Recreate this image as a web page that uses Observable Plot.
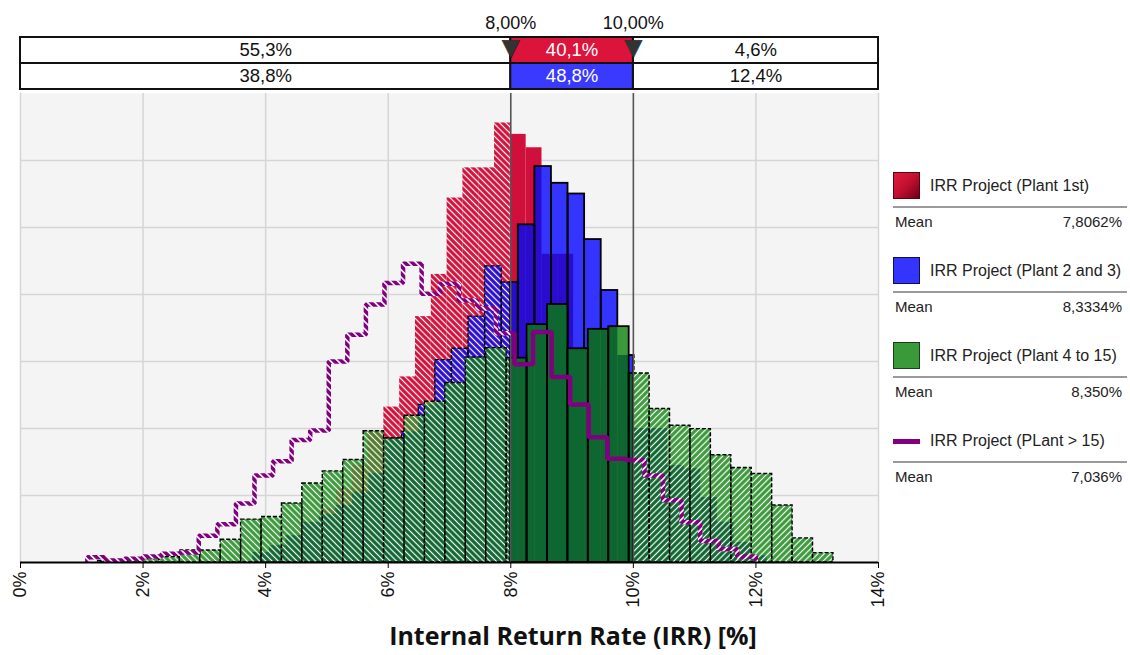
<!DOCTYPE html>
<html>
<head>
<meta charset="utf-8">
<script src="https://cdn.jsdelivr.net/npm/d3@7"></script>
<script src="https://cdn.jsdelivr.net/npm/@observablehq/plot@0.6"></script>
<style>
  body { margin: 0; background: #fff; font-family: "Liberation Sans", Arial, sans-serif; color: #222; }
  #wrap { position: relative; width: 1130px; height: 655px; overflow: hidden; background: #fff; }
  #band { position: absolute; left: 0; top: 0; }
  #main { position: absolute; left: 0; top: 93px; }
  #xlabel { position: absolute; left: 323px; width: 500px; top: 618px; text-align: center;
            font-family: "Open Sans", "DejaVu Sans", sans-serif; font-weight: 700; font-size: 25px; color: #111; }
  .entry { position: absolute; left: 893px; width: 234px; height: 60px; }
  .sw { position: absolute; left: 0; top: 0; width: 25px; height: 25px; border: 1px solid #222; }
  .swline { position: absolute; left: 0; top: 12px; width: 27px; height: 5px; }
  .name { position: absolute; left: 37px; top: 0; line-height: 27px; font-size: 16px; white-space: nowrap; color: #222; }
  .sep { position: absolute; left: 0; top: 34px; width: 234px; height: 2px; background: #9a9a9a; }
  .mean { position: absolute; left: 2px; right: 5px; top: 42px; line-height: 16px; font-size: 15px; color: #222; }
  .mean span { float: right; }
</style>
</head>
<body>
<div id="wrap">
  <div id="band"></div>
  <div id="main"></div>
  <div id="xlabel"></div>
  <div id="legend"></div>
</div>
<script>
// ---------------- data ----------------
const thresholds = [8, 10];
const xDomain = [0, 14];
const xTicks = [0, 2, 4, 6, 8, 10, 12, 14];
const yDomain = [0, 7];
const yGrid = [1, 2, 3, 4, 5, 6];
const xTitle = "Internal Return Rate (IRR) [%]";

const seriesNames = ["IRR Project (Plant 1st)", "IRR Project (Plant 2 and 3)", "IRR Project (Plant 4 to 15)", "IRR Project (PLant > 15)"];
const seriesMeans = ["7,8062%", "8,3334%", "8,350%", "7,036%"];

const bandLabels = ["8,00%", "10,00%"];
const bandRow1 = ["55,3%", "40,1%", "4,6%"];
const bandRow2 = ["38,8%", "48,8%", "12,4%"];

// histogram bins: first left edge, bin width, bar heights
const redStart = 3.865, redWidth = 0.258;
const redHeights = [0.1, 0.2, 0.35, 0.55, 0.8, 1.1, 1.45, 1.95, 2.32, 2.77, 3.67, 4.30, 5.44, 5.89, 5.89, 6.56,
                    6.39, 6.19, 4.6, 4.6, 3.2, 2.6, 2.0, 1.5, 1.0, 0.7, 0.45, 0.25, 0.12];

const blueStart = 3.791, blueWidth = 0.2707;
const blueHeights = [0.15, 0.25, 0.4, 0.6, 0.72, 0.85, 1.05, 1.33, 1.85, 1.95, 2.35, 3.02, 3.19, 3.67, 4.42, 4.18,
                     5.04, 5.91, 5.66, 5.50, 4.82, 4.06, 3.09, 2.0, 2.0, 1.45, 1.4, 0.97, 0.6, 0.3, 0.1];

const greenStart = 1.266, greenWidth = 0.3333;
const greenHeights = [0.02, 0.03, 0.05, 0.08, 0.18, 0.18, 0.34, 0.64, 0.68, 0.88, 1.18, 1.36, 1.53, 1.96, 1.85,
                      2.19, 2.40, 2.68, 3.06, 3.20, 3.05, 3.55, 3.85, 3.19, 3.48, 3.52, 2.82, 2.29, 2.04, 1.99,
                      1.60, 1.41, 1.32, 0.85, 0.36, 0.14];

const purpleStart = 1.091, purpleWidth = 0.303;
const purpleHeights = [0.08, 0.03, 0.055, 0.09, 0.13, 0.15, 0.40, 0.57, 0.88, 1.30, 1.51, 1.83, 1.97, 3.0, 3.40,
                       3.85, 4.17, 4.46, 4.01, 4.16, 3.91, 3.79, 3.42, 2.96, 3.44, 2.77, 2.36, 1.87, 1.55, 1.53,
                       1.30, 0.93, 0.60, 0.32, 0.20, 0.09];

// ---------------- styles ----------------
const COL = {
  red: "#D0103A", blue: "#3434FF", darkBlue: "#2A0CCF",
  green: "#3A9A3A", darkGreen: "#0E6631", olive: "#4F7A2A", purple: "#800080",
  bandRed: "#DC143C", bandBlue: "#3A3AFF"
};
const FONT = '"Liberation Sans", Arial, sans-serif';

// ---------------- helpers ----------------
const [LO, HI] = thresholds;
function makeBins(start, width, heights) {
  return heights.map((h, i) => ({x1: start + i * width, x2: start + (i + 1) * width, h}));
}
function splitZones(b) {
  const cuts = [b.x1, ...thresholds.filter(c => c > b.x1 && c < b.x2), b.x2];
  const out = [];
  for (let i = 0; i < cuts.length - 1; i++) {
    const m = (cuts[i] + cuts[i + 1]) / 2;
    out.push({x1: cuts[i], x2: cuts[i + 1], h: b.h, zone: m < LO ? "L" : m > HI ? "R" : "M"});
  }
  return out;
}
function overlap(top, bottom) {
  const out = [];
  for (const t of top) for (const b of bottom) {
    const a = Math.max(t.x1, b.x1), c = Math.min(t.x2, b.x2);
    if (c > a) out.push({x1: a, x2: c, h: Math.min(t.h, b.h), zone: t.zone});
  }
  return out;
}
function fills(pieces, key) {
  return ["L", "M", "R"].map(z => Plot.rect(pieces.filter(p => p.zone === z), {
    x1: "x1", x2: "x2", y1: 0, y2: "h",
    fill: z === "M" ? COL[key] : `url(#hatch-${key}-${z})`
  }));
}
function outlines(pieces) {
  return [
    Plot.rect(pieces.filter(p => p.zone !== "M"), {x1: "x1", x2: "x2", y1: 0, y2: "h",
      fill: "none", stroke: "#000", strokeWidth: 1.4, strokeDasharray: "4,2"}),
    Plot.rect(pieces.filter(p => p.zone === "M"), {x1: "x1", x2: "x2", y1: 0, y2: "h",
      fill: "none", stroke: "#000", strokeWidth: 1.8})
  ];
}
function stepPieces(bs) {
  const hAt = x => (bs.find(b => x >= b.x1 && x < b.x2) || {h: 0}).h;
  const left = [{x: bs[0].x1, y: 0}, ...bs.filter(b => b.x1 < LO).map(b => ({x: b.x1, y: b.h})), {x: LO, y: hAt(LO)}];
  const mid = [{x: LO, y: hAt(LO)}, ...bs.filter(b => b.x1 > LO && b.x1 < HI).map(b => ({x: b.x1, y: b.h})), {x: HI, y: hAt(HI)}];
  const right = [{x: HI, y: hAt(HI)}, ...bs.filter(b => b.x1 > HI).map(b => ({x: b.x1, y: b.h})), {x: bs[bs.length - 1].x2, y: 0}];
  return {left, mid, right};
}

// ---------------- derived ----------------
const redBins = makeBins(redStart, redWidth, redHeights);
const blueBins = makeBins(blueStart, blueWidth, blueHeights);
const greenBins = makeBins(greenStart, greenWidth, greenHeights);
const purpleBins = makeBins(purpleStart, purpleWidth, purpleHeights);

const redP = redBins.flatMap(splitZones);
const blueP = blueBins.flatMap(splitZones);
const greenP = greenBins.flatMap(splitZones);
const blueOverRed = overlap(blueP, redBins);
const greenOverRed = overlap(greenP, redBins);
const greenOverBlue = overlap(greenP, blueBins);
const purple = stepPieces(purpleBins);

// ---------------- band plot ----------------
const edges = [xDomain[0], ...thresholds, xDomain[1]];
const bandCells = [bandRow1, bandRow2].flatMap((row, r) =>
  row.map((label, i) => ({row: r === 0 ? "a" : "b", x1: edges[i], x2: edges[i + 1], label, mid: i === 1})));

const band = Plot.plot({
  width: 1130, height: 93,
  marginLeft: 20, marginRight: 252, marginTop: 37, marginBottom: 4,
  x: {domain: xDomain, axis: null},
  y: {domain: ["a", "b"], axis: null, padding: 0},
  style: {fontFamily: FONT, fontSize: "18px", background: "transparent", color: "#111"},
  marks: [
    Plot.barX(bandCells.filter(c => !c.mid), {x1: "x1", x2: "x2", y: "row", fill: "#fff", stroke: "#111", strokeWidth: 2}),
    Plot.barX(bandCells.filter(c => c.mid && c.row === "a"), {x1: "x1", x2: "x2", y: "row", fill: COL.bandRed, stroke: "#111", strokeWidth: 2}),
    Plot.barX(bandCells.filter(c => c.mid && c.row === "b"), {x1: "x1", x2: "x2", y: "row", fill: COL.bandBlue, stroke: "#111", strokeWidth: 2}),
    Plot.text(bandCells.filter(c => !c.mid), {x: d => (d.x1 + d.x2) / 2, y: "row", text: "label", fill: "#111", fontSize: 18.5}),
    Plot.text(bandCells.filter(c => c.mid), {x: d => (d.x1 + d.x2) / 2, y: "row", text: "label", fill: "#fff", fontSize: 18.5}),
    Plot.text(thresholds, {x: d => d, text: (d, i) => bandLabels[i], frameAnchor: "top", dy: -21, fontSize: 18, fill: "#111"}),
    Plot.text(thresholds, {x: d => d, text: () => "\u25BC", frameAnchor: "top", dy: 1, fontSize: 23, fill: "#333",
      fontFamily: '"DejaVu Sans", sans-serif', stroke: "#111", strokeWidth: 0.6})
  ]
});
document.getElementById("band").appendChild(band);

// ---------------- main plot ----------------
const axisOpts = {ticks: xTicks, tickFormat: d => d + "%", tickRotate: -90, tickSize: 6, tickPadding: 3, label: null};
const hasAxisMark = typeof Plot.axisX === "function";
const main = Plot.plot({
  width: 1130, height: 562,
  marginLeft: 20, marginRight: 252, marginTop: 0, marginBottom: 93,
  x: hasAxisMark ? {domain: xDomain} : {domain: xDomain, ...axisOpts, line: false},
  y: {domain: yDomain, axis: null},
  style: {fontFamily: FONT, fontSize: "18px", background: "#fff", color: "#111"},
  marks: [
    Plot.frame({fill: "#F4F4F4", stroke: "none"}),
    Plot.ruleY(yGrid, {stroke: "#D5D5D5", strokeWidth: 1.5}),
    Plot.ruleX(xTicks.filter(t => !thresholds.includes(t)), {stroke: "#D5D5D5", strokeWidth: 1.5}),
    // Plant 1st
    ...fills(redP, "red"),
    // Plant 2 and 3
    ...fills(blueP, "blue"),
    ...fills(blueOverRed, "darkBlue"),
    ...outlines(blueP),
    // Plant 4 to 15
    ...fills(greenP, "green"),
    ...fills(greenOverRed, "olive"),
    ...fills(greenOverBlue, "darkGreen"),
    ...outlines(greenP),
    // threshold markers
    Plot.ruleX(thresholds, {stroke: "#555", strokeWidth: 1.6}),
    // PLant > 15 (step outline)
    Plot.line(purple.left, {x: "x", y: "y", curve: "step-after", stroke: "url(#hatch-purple-L)", strokeWidth: 4.5, strokeLinejoin: "miter", strokeLinecap: "butt"}),
    Plot.line(purple.mid, {x: "x", y: "y", curve: "step-after", stroke: COL.purple, strokeWidth: 4.5, strokeLinejoin: "miter", strokeLinecap: "butt"}),
    Plot.line(purple.right, {x: "x", y: "y", curve: "step-after", stroke: "url(#hatch-purple-R)", strokeWidth: 4.5, strokeLinejoin: "miter", strokeLinecap: "butt"}),
    Plot.ruleY([0], {stroke: "#000", strokeWidth: 2}),
    ...(hasAxisMark ? [Plot.axisX({...axisOpts, fontSize: 18, stroke: "#000", fill: "#111"})] : [])
  ]
});

// hatch patterns (white diagonal stripes)
const NS = "http://www.w3.org/2000/svg";
const defs = document.createElementNS(NS, "defs");
for (const key of ["red", "blue", "darkBlue", "green", "darkGreen", "olive", "purple"]) {
  for (const z of ["L", "R"]) {
    const w = key === "purple" ? 5.2 : 4.4;
    const p = document.createElementNS(NS, "pattern");
    p.setAttribute("id", `hatch-${key}-${z}`);
    p.setAttribute("patternUnits", "userSpaceOnUse");
    p.setAttribute("width", w);
    p.setAttribute("height", w);
    p.setAttribute("patternTransform", z === "L" ? "rotate(-45)" : "rotate(45)");
    const r = document.createElementNS(NS, "rect");
    r.setAttribute("width", w); r.setAttribute("height", w); r.setAttribute("fill", COL[key]);
    const l = document.createElementNS(NS, "line");
    l.setAttribute("x1", w / 2); l.setAttribute("x2", w / 2); l.setAttribute("y1", -1); l.setAttribute("y2", w + 1);
    l.setAttribute("stroke", "#fff"); l.setAttribute("stroke-width", key === "purple" ? 1.6 : 1.2);
    p.appendChild(r); p.appendChild(l);
    defs.appendChild(p);
  }
}
main.insertBefore(defs, main.firstChild);
document.getElementById("main").appendChild(main);

// ---------------- legend ----------------
document.getElementById("xlabel").textContent = xTitle;
const legend = document.getElementById("legend");
const swatches = [
  "background: linear-gradient(135deg, #E4193F 0%, #C0102F 50%, #6E0016 100%); border-color: #5a0010;",
  `background: ${COL.blue}; border-color: #11114a;`,
  `background: ${COL.green}; border-color: #1c3d1c;`,
  null
];
seriesNames.forEach((name, i) => {
  const e = document.createElement("div");
  e.className = "entry";
  e.style.top = (172 + 85 * i) + "px";
  const sw = swatches[i]
    ? `<div class="sw" style="${swatches[i]}"></div>`
    : `<div class="swline" style="background:${COL.purple}"></div>`;
  e.innerHTML = `${sw}<div class="name"></div><div class="sep"></div><div class="mean">Mean<span></span></div>`;
  e.querySelector(".name").textContent = name;
  e.querySelector(".mean span").textContent = seriesMeans[i];
  legend.appendChild(e);
});
</script>
</body>
</html>
